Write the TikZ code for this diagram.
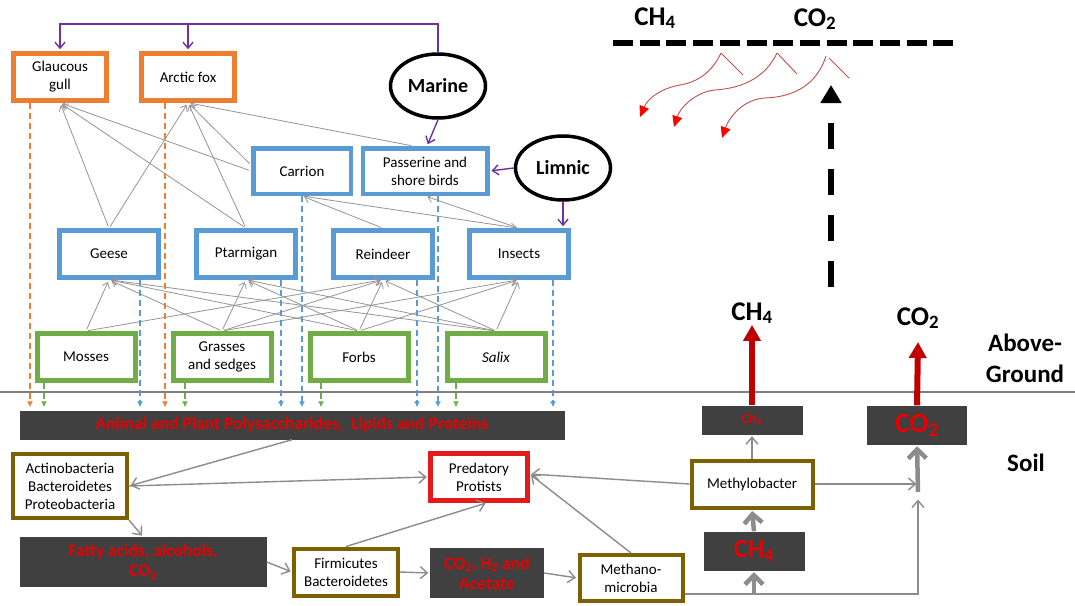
\documentclass[tikz,border=0pt]{standalone}
\usepackage{fontspec}
\setmainfont{Carlito}
\usepackage{tikz}
\usetikzlibrary{arrows.meta,shapes.geometric}
\definecolor{huntc}{HTML}{ED7D31}
\definecolor{animc}{HTML}{5B9BD5}
\definecolor{plantc}{HTML}{70AD47}
\definecolor{microc}{HTML}{7F6000}
\definecolor{protc}{HTML}{E41B1B}
\definecolor{poolc}{HTML}{404040}
\definecolor{poolt}{HTML}{E80000}
\definecolor{webc}{HTML}{959595}
\definecolor{seac}{HTML}{7030A0}
\definecolor{flowc}{HTML}{8C8C8C}
\definecolor{emitc}{HTML}{C00000}
\definecolor{wavec}{HTML}{C0504D}
\definecolor{groundc}{HTML}{7F7F7F}

\begin{document}
\begin{tikzpicture}[x=1pt, y=-1pt,
  box/.style={draw, fill=white, align=center, inner sep=1pt, font=\fontsize{15}{18}\selectfont},
  hunter/.style={box, draw=huntc, line width=4.5pt, minimum width=93pt, minimum height=47pt},
  animal/.style={box, draw=animc, line width=4.5pt, minimum width=99pt, minimum height=47pt},
  plant/.style={box, draw=plantc, line width=5pt, minimum width=98pt, minimum height=47pt},
  microbe/.style={box, draw=microc, line width=4pt},
  pool/.style={fill=poolc, text=poolt, align=center, inner sep=1pt, font=\bfseries\fontsize{17.5}{20}\selectfont},
  water/.style={ellipse, draw, fill=white, line width=3.5pt, minimum width=95pt, minimum height=64pt, inner sep=0pt, font=\bfseries\fontsize{20}{24}\selectfont},
  gas/.style={anchor=base, inner sep=1pt, font=\bfseries\fontsize{27}{30}\selectfont},
  zone/.style={align=center, font=\bfseries\fontsize{25}{31}\selectfont},
  feed/.style={draw=webc, line width=0.8pt, -{Straight Barb[length=5pt,width=8pt]}, shorten >=2.5pt, shorten <=2pt},
  sea/.style={draw=seac, line width=1.4pt, -{Straight Barb[length=6pt,width=10pt]}, shorten >=2pt},
  drop/.style={line width=1.5pt, dash pattern=on 6pt off 4pt, -{Latex[length=6pt,width=6pt]}, shorten >=3pt},
  flow/.style={draw=flowc, line width=1.4pt, -{Straight Barb[length=7pt,width=12pt]}, shorten >=1.5pt},
  bigflow/.style={draw=flowc, line width=4.5pt, -{Straight Barb[length=9pt,width=18pt]}, shorten >=1.5pt},
  emit/.style={draw=emitc, line width=6pt, -{Triangle[length=16pt,width=17pt]}},
  wave/.style={draw=wavec, line width=0.9pt}]
\fill[white] (0,0) rectangle (1075,605);
\useasboundingbox (0,0) rectangle (1075,605);

\node[hunter] (gull) at (60,77) {Glaucous\\gull};
\node[hunter] (fox) at (188,77) {Arctic fox};
\node[water] (marine) at (438,86) {Marine};
\node[animal, minimum width=97.5pt, minimum height=45.5pt] (carrion) at (302,171) {Carrion};
\node[animal, minimum width=124.5pt, minimum height=45.5pt] (passerine) at (425,171) {Passerine and\\shore birds};
\node[water] (limnic) at (563,168) {Limnic};
\node[animal] (geese) at (109,254) {Geese};
\node[animal] (ptarmigan) at (246,254) {Ptarmigan};
\node[animal] (reindeer) at (383,254) {Reindeer};
\node[animal] (insects) at (519,254) {Insects};
\node[plant] (mosses) at (86,357) {Mosses};
\node[plant] (grasses) at (222,357) {Grasses\\and sedges};
\node[plant] (forbs) at (359,357) {Forbs};
\node[plant] (salix) at (496,357) {\textit{Salix}};

\draw[draw=groundc, line width=1.4pt] (0,392) -- (1075,392);

\node[pool, minimum width=545pt, minimum height=29pt] (polymers) at (292,425) {Animal and Plant Polysaccharides,\ \ Lipids and Proteins};
\node[microbe, minimum width=114pt, minimum height=64pt] (actino) at (70,486) {Actinobacteria\\Bacteroidetes\\Proteobacteria};
\node[microbe, draw=protc, line width=4.5pt, minimum width=97pt, minimum height=47pt] (protists) at (479,477) {Predatory\\Protists};
\node[microbe, minimum width=121pt, minimum height=47pt] (methylo) at (752,484) {Methylobacter};
\node[pool, minimum width=247pt, minimum height=50pt] (fatty) at (143,562) {Fatty acids, alcohols,\\CO\textsubscript{2}};
\node[microbe, minimum width=104pt, minimum height=47pt] (firmi) at (346,572) {Firmicutes\\Bacteroidetes};
\node[pool, minimum width=114pt, minimum height=50pt] (acetate) at (487,573) {CO\textsubscript{2}, H\textsubscript{2} and\\Acetate};
\node[microbe, minimum width=103pt, minimum height=46pt] (methano) at (631,578) {Methano-\\microbia};
\node[pool, minimum width=101pt, minimum height=29pt, font=\bfseries\fontsize{13}{15}\selectfont] (chsmall) at (752,420) {CH\textsubscript{4}};
\node[pool, minimum width=100pt, minimum height=39pt, font=\bfseries\fontsize{28}{30}\selectfont] (codark) at (917,425) {CO\textsubscript{2}};
\node[pool, minimum width=101pt, minimum height=39pt, font=\bfseries\fontsize{26}{28}\selectfont] (chdark) at (754,551) {CH\textsubscript{4}};

\node[gas] (chup) at (752,320) {CH\textsubscript{4}};
\node[gas] (coup) at (918,325) {CO\textsubscript{2}};
\node[gas] (chtop) at (655,25) {CH\textsubscript{4}};
\node[gas] (cotop) at (815,26) {CO\textsubscript{2}};
\node[zone] (above) at (1025,358) {Above-\\Ground};
\node[zone] (soil) at (1026,463) {Soil};

\coordinate (seatop) at (0,24);
\coordinate (junc) at (918,492);
\coordinate (base) at (918,594);

\foreach \s/\t in {geese/gull, geese/fox, ptarmigan/gull, ptarmigan/fox}
  \draw[feed] (\s.north) -- (\t.south);
\draw[feed] (carrion.west) -- (gull.south);
\draw[feed] ([yshift=6pt]carrion.west) -- (fox.south);
\draw[feed] ([xshift=-12pt]passerine.north) -- (fox.south);
\draw[feed] (reindeer.north) -- (carrion.south);
\draw[feed] (carrion.south) -- (insects.north);
\draw[feed] (insects.north) -- (passerine.south);
\foreach \s/\t in {mosses/geese, mosses/reindeer, grasses/geese, grasses/ptarmigan,
  grasses/reindeer, grasses/insects, forbs/geese, forbs/ptarmigan, forbs/reindeer,
  forbs/insects, salix/geese, salix/ptarmigan, salix/reindeer, salix/insects}
  \draw[feed] (\s.north) -- (\t.south);

\draw[sea] (marine.north) -- (marine.north |- seatop) -| (gull.north);
\draw[sea] (fox.north |- seatop) -- (fox.north);
\draw[sea] (marine.south) -- ([xshift=2pt]passerine.north);
\draw[sea] (limnic.west) -- (passerine.east);
\draw[sea] (limnic.south) -- (limnic.south |- insects.north);

\foreach \n/\dx/\c in {gull/-30/huntc, fox/-23/huntc, mosses/-42/plantc, grasses/-37/plantc,
  forbs/-38/plantc, salix/-40/plantc, geese/31/animc, ptarmigan/35/animc, carrion/0/animc,
  reindeer/34/animc, passerine/13/animc, insects/34/animc} {
  \path ([xshift=\dx pt]\n.south) coordinate (d);
  \draw[drop, draw=\c] (d) -- (d |- polymers.north);
}

\draw[flow] (polymers.south) -- (actino.east);
\draw[flow] (actino.east) -- (protists.west);
\draw[flow] (actino.south east) -- (fatty.north);
\draw[flow] (fatty.east) -- (firmi.west);
\draw[flow] (firmi.east) -- (acetate.west);
\draw[flow] (acetate.east) -- (methano.west);
\draw[flow] (firmi.north) -- ([xshift=8pt]protists.south);
\draw[flow] (methano.north) -- ([yshift=3pt]protists.east);
\draw[flow] (methylo.west) -- ([yshift=3pt]protists.east);
\draw[flow] (methylo.north) -- (chsmall.south);
\draw[bigflow] (chdark.north) -- (methylo.south);
\draw[bigflow] (chdark.south |- base) -- (chdark.south);
\draw[flow] (methano.east |- base) -- (base) -- ([yshift=-6pt]junc);
\draw[flow] (methylo.east) -- (methylo.east -| junc);
\draw[bigflow] (junc) -- (codark.south);

\draw[emit] (chsmall.north) -- (chup.south);
\draw[emit] (codark.north) -- ([yshift=-12pt]coup.south);

\draw[line width=6pt, dash pattern=on 20pt off 6.7pt] (613,43) -- (953,43);
\draw[line width=6.5pt, dash pattern=on 26pt off 20pt, -{Triangle[length=18pt,width=20pt]}] (831,287) -- (831,85);

\draw[wave, -{Triangle[length=11pt,width=10pt,color=red]}] (721,53) .. controls (712,72) and (698,82) .. (680,85) .. controls (662,88) and (648,98) .. (640,117);
\draw[wave] (721,53) -- (743,75);
\draw[wave, -{Triangle[length=11pt,width=10pt,color=red]}] (777,53) .. controls (766,76) and (745,88) .. (715,90) .. controls (695,92) and (680,108) .. (674,127);
\draw[wave] (777,53) -- (797,74);
\draw[wave, -{Triangle[length=11pt,width=10pt,color=red]}] (826,56) .. controls (817,84) and (795,97) .. (765,98) .. controls (745,99) and (730,115) .. (722,138);
\draw[wave] (829,58) -- (849,78);
\end{tikzpicture}
\end{document}
